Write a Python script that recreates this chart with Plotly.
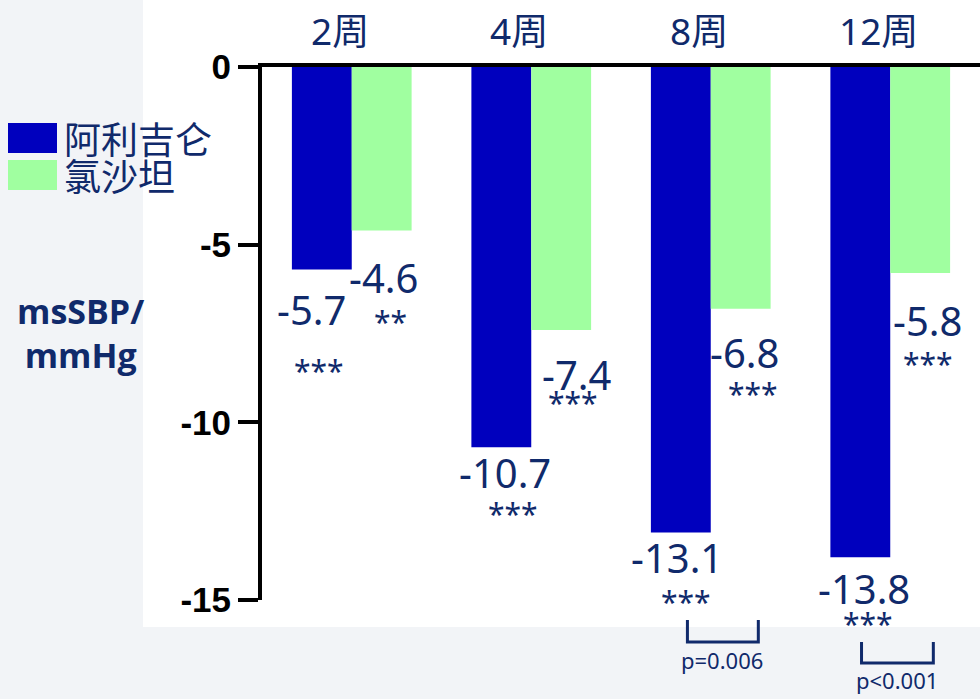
import plotly.graph_objects as go

# ---------------- data ----------------
categories = ["2周", "4周", "8周", "12周"]
series_names = ["阿利吉仑", "氯沙坦"]
aliskiren = [-5.7, -10.7, -13.1, -13.8]
losartan = [-4.6, -7.4, -6.8, -5.8]
aliskiren_sig = ["***", "***", "***", "***"]
losartan_sig = ["**", "***", "***", "***"]
y_ticks = [0, -5, -10, -15]
y_title = "msSBP/<br>mmHg"
p_labels = ["p=0.006", "p&lt;0.001"]

# ---------------- styles ----------------
BLUE = "#0000BE"
GREEN = "#A0FFA0"
NAVY = "#102A6B"
W, H = 980, 699
ML, MR, MT, MB = 262, 0, 67, 99
PW, PH = W - ML - MR, H - MT - MB
NUM_FONT = "Noto Sans, Noto Sans CJK SC, sans-serif"


def px2x(px):
    return (px - ML) / PW


def py2y(py):
    return (H - MB - py) / PH


xs = list(range(len(categories)))
off = 1 / 6

fig = go.Figure()
fig.add_trace(go.Bar(x=xs, y=aliskiren, name=series_names[0], marker=dict(color=BLUE, line=dict(width=0))))
fig.add_trace(go.Bar(x=xs, y=losartan, name=series_names[1], marker=dict(color=GREEN, line=dict(width=0))))

ann = []
shapes = []

# category labels along top
for i, c in enumerate(categories):
    ann.append(dict(x=i, y=1, xref="x", yref="paper", text=c, showarrow=False,
                    xanchor="center", yanchor="middle", xshift=-12, yshift=37,
                    font=dict(family=NUM_FONT, size=37, color=NAVY)))

# value + significance labels (pixel offsets from bar end)
blue_num_off = [(-10, 40), (4, 25), (-4, 25), (4, 31)]
blue_star_off = [(-3, 101), (12, 66), (5, 69), (8, 66)]
green_num_off = [(2, 47), (15, 45), (4, 44), (7, 47)]
green_star_off = [(9, 91), (12, 73), (12, 85), (8, 90)]

for i in xs:
    for vals, sigs, sgn, noff, soff in (
        (aliskiren, aliskiren_sig, -1, blue_num_off, blue_star_off),
        (losartan, losartan_sig, 1, green_num_off, green_star_off),
    ):
        v = vals[i]
        ann.append(dict(x=i + sgn * off, y=v, xref="x", yref="y", text=f"{v:.1f}", showarrow=False,
                        xanchor="center", yanchor="middle", xshift=noff[i][0], yshift=-noff[i][1],
                        font=dict(family=NUM_FONT, size=40, color=NAVY)))
        ann.append(dict(x=i + sgn * off, y=v, xref="x", yref="y", text=sigs[i], showarrow=False,
                        xanchor="center", yanchor="middle", xshift=soff[i][0], yshift=-soff[i][1],
                        font=dict(family=NUM_FONT, size=30, color=NAVY)))

# comparison brackets
brackets = [
    (2 - 0.13, 2 + 0.265, 620, 642, 660, p_labels[0], 2 + 0.065),
    (3 - 0.16, 3 + 0.24, 642, 663, 680, p_labels[1], 3 + 0.04),
]
for x0, x1, ytop, ybot, ytxt, lab, xt in brackets:
    shapes.append(dict(type="path", xref="x", yref="paper",
                       path=f"M {x0} {py2y(ytop)} L {x0} {py2y(ybot)} L {x1} {py2y(ybot)} L {x1} {py2y(ytop)}",
                       line=dict(color=NAVY, width=3)))
    ann.append(dict(x=xt, y=py2y(ytxt), xref="x", yref="paper", text=lab, showarrow=False,
                    xanchor="center", yanchor="middle",
                    font=dict(family=NUM_FONT, size=22, color=NAVY)))

# white panel behind chart
shapes.insert(0, dict(type="rect", xref="paper", yref="paper", layer="below",
                      x0=px2x(143), x1=px2x(W), y0=py2y(627), y1=py2y(0),
                      fillcolor="white", line=dict(width=0)))

# manual legend
for k, (nm, col) in enumerate(zip(series_names, [BLUE, GREEN])):
    y0 = 123 + k * 37
    shapes.append(dict(type="rect", xref="paper", yref="paper",
                       x0=px2x(8), x1=px2x(57), y0=py2y(y0 + 30), y1=py2y(y0),
                       fillcolor=col, line=dict(width=0)))
    ann.append(dict(x=px2x(62), y=py2y(y0 + 15), xref="paper", yref="paper", text=nm,
                    showarrow=False, xanchor="left", yanchor="middle",
                    font=dict(family="Noto Sans CJK SC", size=37, color=NAVY)))

# y-axis title
ann.append(dict(x=px2x(81), y=py2y(333), xref="paper", yref="paper", text=f"<b>{y_title}</b>",
                showarrow=False, xanchor="center", yanchor="middle", align="center",
                font=dict(family="Open Sans", size=34, color=NAVY)))

fig.update_layout(
    width=W, height=H,
    margin=dict(l=ML, r=MR, t=MT, b=MB, pad=0),
    paper_bgcolor="#F2F4F7",
    plot_bgcolor="rgba(0,0,0,0)",
    barmode="group", bargap=0.333, bargroupgap=0,
    showlegend=False,
    annotations=ann,
    shapes=shapes,
    xaxis=dict(range=[-0.5, 3.5], side="top", showline=True, linecolor="black", linewidth=4,
               showticklabels=False, ticks="", showgrid=False, zeroline=False, fixedrange=True),
    yaxis=dict(range=[-15, 0], tickvals=y_ticks, ticktext=[str(t) for t in y_ticks],
               showline=True, linecolor="black", linewidth=4,
               ticks="outside", ticklen=20, tickwidth=4, tickcolor="black",
               tickfont=dict(family="Liberation Sans", size=35, color="black", weight="bold"),
               showgrid=False, zeroline=False, fixedrange=True),
)

fig.write_html(
    "out.html",
    config={"displayModeBar": False},
    post_script="document.body.style.margin='0';document.body.style.overflow='hidden';",
)
